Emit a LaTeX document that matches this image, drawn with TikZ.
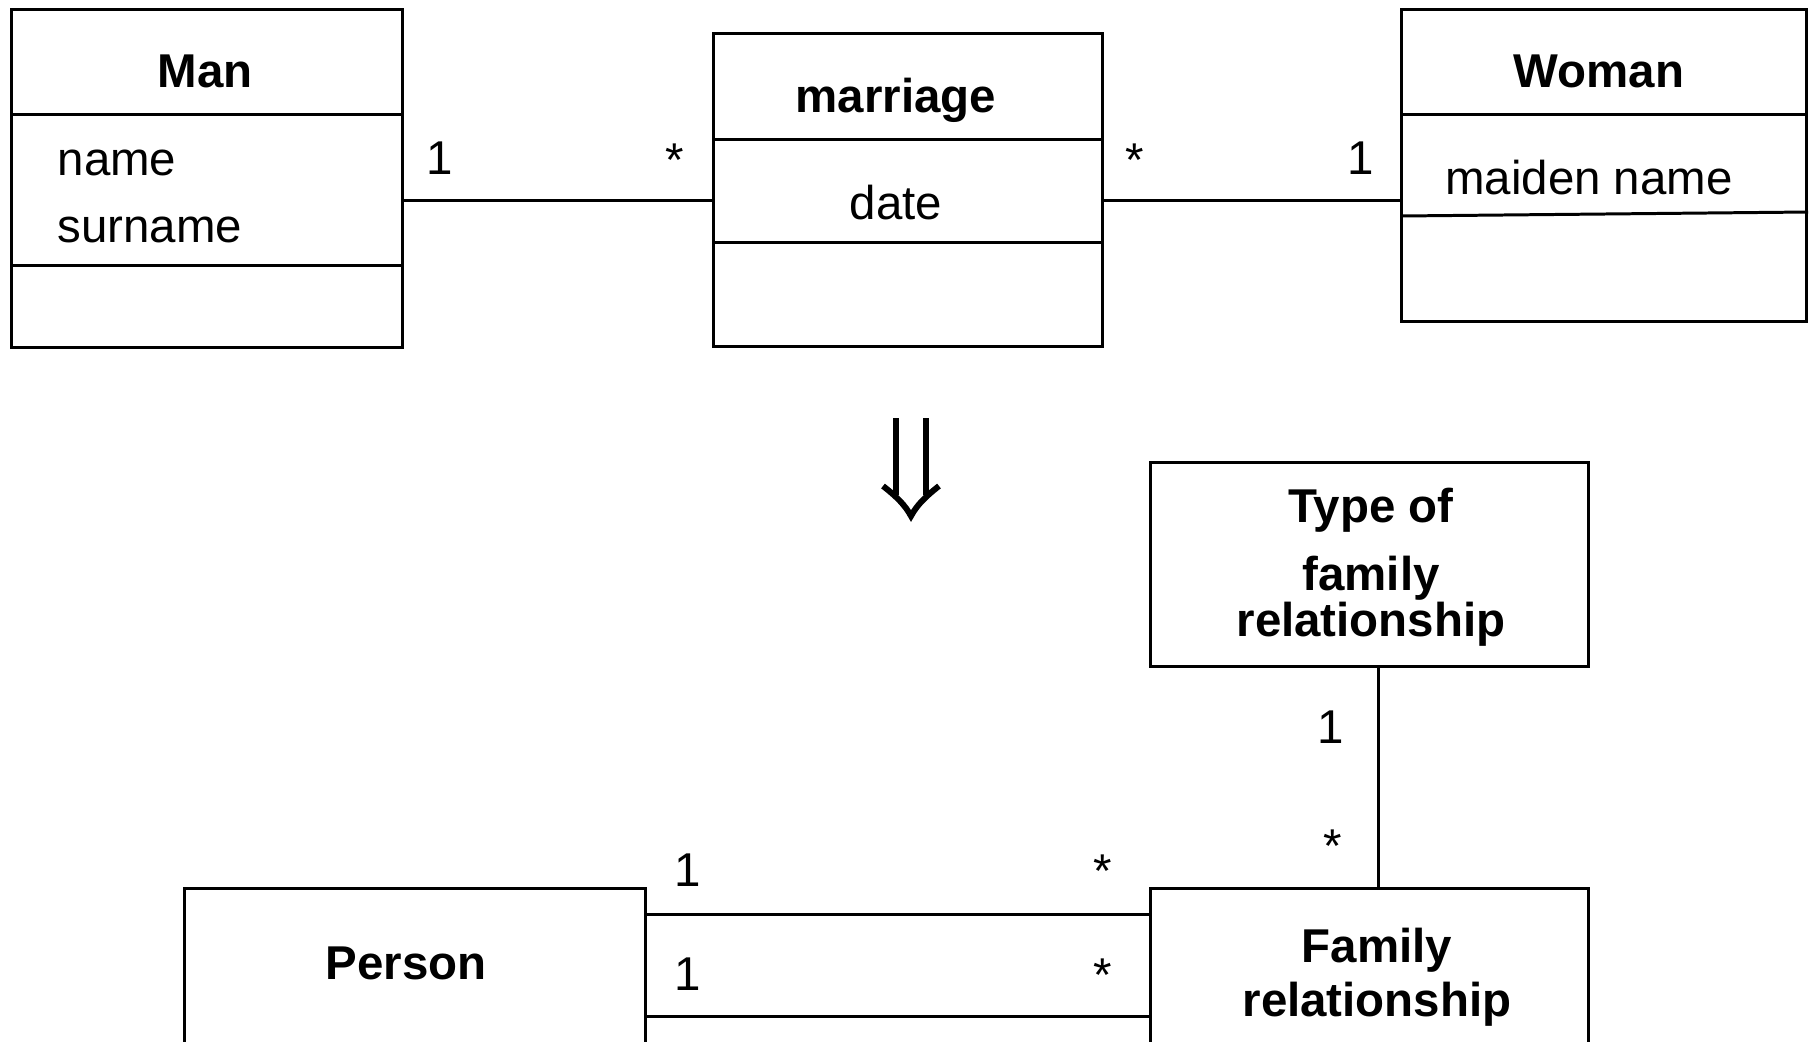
\documentclass[tikz,border=0pt]{standalone}
\usepackage{fontspec}
\setmainfont{Liberation Sans}
\usetikzlibrary{positioning}

\begin{document}
\begin{tikzpicture}[
classbox/.style={rectangle,
  draw,
  line width=0.85pt,
  anchor=north west,
  inner sep=0pt
},
classname/.style={font=\fontsize{13.5}{16}\selectfont\bfseries,
  inner sep=0pt,
  anchor=base,
  align=center
},
attr/.style={font=\fontsize{13.5}{16}\selectfont,
  inner sep=0pt,
  anchor=base
},
mult/.style={font=\fontsize{13.5}{16}\selectfont,
  inner sep=0pt,
  anchor=base
},
link/.style={line width=0.85pt},
bigarrow/.style={line width=1.7pt}
]

\useasboundingbox (0,0) rectangle (18.10,-10.41);
\clip (0,0) rectangle (18.10,-10.41);

\node[classbox, minimum width=3.91cm, minimum height=3.38cm] (man) at (0.10,-0.08) {};
\node[classbox, minimum width=3.89cm, minimum height=3.13cm] (marriage) at (7.12,-0.32) {};
\node[classbox, minimum width=4.05cm, minimum height=3.12cm] (woman) at (14.00,-0.08) {};

\node[classname] (mantitle) at (2.05,-0.87) {Man};
\node[attr, anchor=base west] (name) at (0.57,-1.75) {name};
\node[attr, anchor=base west] (surname) at (0.57,-2.42) {surname};
\draw[link] (man.west |- 0,-1.14) -- (man.east |- 0,-1.14);
\draw[link] (man.west |- 0,-2.65) -- (man.east |- 0,-2.65);

\node[classname] (marriagetitle) at (8.96,-1.12) {marriage};
\node[attr] (date) at (8.96,-2.19) {date};
\draw[link] (marriage.west |- 0,-1.39) -- (marriage.east |- 0,-1.39);
\draw[link] (marriage.west |- 0,-2.42) -- (marriage.east |- 0,-2.42);

\node[classname] (womantitle) at (15.99,-0.87) {Woman};
\node[attr] (maiden) at (15.89,-1.94) {maiden name};
\draw[link] (woman.west |- 0,-1.14) -- (woman.east |- 0,-1.14);
\draw[link] (woman.west |- 0,-2.16) -- (woman.east |- 0,-2.12);

\coordinate (toplink) at (0,-2.00);
\draw[link] (man.east |- toplink) -- (marriage.west |- toplink);
\draw[link] (marriage.east |- toplink) -- (woman.west |- toplink);
\node[mult] (m1) at (4.40,-1.74) {1};
\node[mult] (m2) at (6.75,-1.76) {*};
\node[mult] (m3) at (11.35,-1.76) {*};
\node[mult] (m4) at (13.61,-1.74) {1};

\draw[bigarrow] (8.96,-4.18) -- (8.96,-4.95);
\draw[bigarrow] (9.26,-4.18) -- (9.26,-4.95);
\draw[bigarrow, line join=miter] (8.83,-4.86) .. controls (8.97,-4.97) and (9.05,-5.05) .. (9.11,-5.16)
  .. controls (9.17,-5.05) and (9.25,-4.97) .. (9.39,-4.86);

\node[classbox, minimum width=4.38cm, minimum height=2.04cm] (famtype) at (11.49,-4.61) {};
\node[classname, anchor=north] (famtypetitle) at (13.71,-4.87)
    {Type of\\[0.12cm]family\\[-0.10cm]relationship};

\node[classbox, minimum width=4.38cm, minimum height=2.00cm] (famrel) at (11.49,-8.87) {};
\node[classname] (famreltitle) at (13.77,-9.62) {Family};
\node[classname] (famreltitle2) at (13.77,-10.16) {relationship};

\node[classbox, minimum width=4.61cm, minimum height=2.00cm] (person) at (1.83,-8.87) {};
\node[classname] (persontitle) at (4.06,-9.79) {Person};

\draw[link] (famtype.south -| 13.785,0) -- (famrel.north -| 13.785,0);
\node[mult] (v1) at (13.31,-7.43) {1};
\node[mult] (v2) at (13.33,-8.62) {*};

\coordinate (lowlink1) at (0,-9.14);
\coordinate (lowlink2) at (0,-10.16);
\draw[link] (person.east |- lowlink1) -- (famrel.west |- lowlink1);
\draw[link] (person.east |- lowlink2) -- (famrel.west |- lowlink2);
\node[mult] (p1) at (6.88,-8.86) {1};
\node[mult] (p2) at (11.03,-8.87) {*};
\node[mult] (p3) at (6.88,-9.90) {1};
\node[mult] (p4) at (11.03,-9.91) {*};
\end{tikzpicture}
\end{document}
